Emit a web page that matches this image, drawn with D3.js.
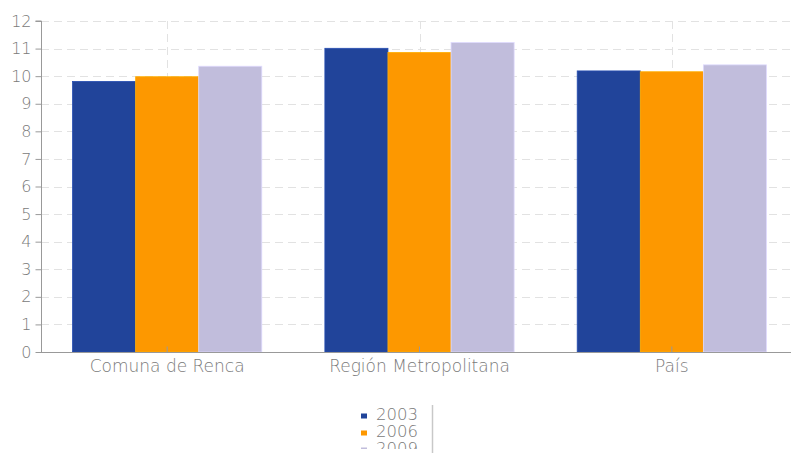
<!DOCTYPE html>
<html>
<head>
<meta charset="utf-8">
<script src="https://cdn.jsdelivr.net/npm/d3@7"></script>
<style>
  html, body { margin: 0; padding: 0; background: #fff; }
  svg { display: block; }
  text { font-family: "DejaVu Sans", Verdana, sans-serif; font-weight: 200; fill: #7a7a7a; }
</style>
</head>
<body>
<svg id="chart" width="791" height="453"></svg>
<script>
// Chart data
const categories = ["Comuna de Renca", "Región Metropolitana", "País"];
const years = ["2003", "2006", "2009"];
const values2003 = [9.81, 11.01, 10.19];
const values2006 = [9.98, 10.86, 10.16];
const values2009 = [10.36, 11.22, 10.41];
const yTicks = [0, 1, 2, 3, 4, 5, 6, 7, 8, 9, 10, 11, 12];
const colors = ["#21449a", "#fd9800", "#c1bddc"];

const seriesValues = [values2003, values2006, values2009];

const svg = d3.select("#chart");
const margin = { left: 41, top: 21, bottom: 352 };
const xRight = 798;
const fontFamily = "'DejaVu Sans', Verdana, sans-serif";
const textColor = "#7a7a7a";

const x = d3.scaleBand().domain(categories).range([margin.left, xRight])
  .paddingInner(0.25).paddingOuter(0.125);
const xs = d3.scaleBand().domain(years).range([0, x.bandwidth()]);
const y = d3.scaleLinear().domain([0, 12]).range([margin.bottom, margin.top]);

// horizontal grid
svg.append("g").selectAll("line").data(yTicks.filter(d => d > 0)).join("line")
  .attr("x1", margin.left).attr("x2", 791)
  .attr("y1", d => Math.round(y(d)) + 0.5).attr("y2", d => Math.round(y(d)) + 0.5)
  .attr("stroke", "#e2e2e2").attr("stroke-width", 1).attr("stroke-dasharray", "8,5");

// vertical grid at category centres
svg.append("g").selectAll("line").data(categories).join("line")
  .attr("x1", d => Math.round(x(d) + x.bandwidth() / 2) + 0.5)
  .attr("x2", d => Math.round(x(d) + x.bandwidth() / 2) + 0.5)
  .attr("y1", y(12)).attr("y2", y(0))
  .attr("stroke", "#e2e2e2").attr("stroke-width", 1).attr("stroke-dasharray", "8,5");

// bars
const groups = svg.append("g").selectAll("g").data(categories).join("g")
  .attr("transform", d => `translate(${x(d)},0)`);
groups.selectAll("rect")
  .data((c, i) => years.map((yr, k) => ({ yr, k, v: seriesValues[k][i] })))
  .join("rect")
  .attr("x", d => xs(d.yr))
  .attr("y", d => y(d.v))
  .attr("width", xs.bandwidth())
  .attr("height", d => y(0) - y(d.v))
  .attr("fill", d => colors[d.k])
  .attr("stroke", d => d3.color(colors[d.k]).brighter(0.4))
  .attr("stroke-width", 0.8);

// y axis
const yAxis = d3.axisLeft(y).tickValues(yTicks).tickSize(6).tickPadding(4);
const gy = svg.append("g").attr("transform", `translate(${margin.left + 0.5},0)`).call(yAxis);
gy.select(".domain").attr("stroke", "#999").attr("d", `M-6,${y(12)}H0V${y(0)}`);
gy.selectAll(".tick line").attr("stroke", "#999");
gy.selectAll(".tick text").attr("font-size", 16).attr("fill", textColor)
  .style("font-family", fontFamily).style("font-weight", 200);

// x axis
const xAxis = d3.axisBottom(x).tickSize(6).tickSizeOuter(0).tickPadding(1);
const gx = svg.append("g").attr("transform", `translate(0,${margin.bottom + 0.5})`).call(xAxis);
gx.select(".domain").attr("stroke", "#999").attr("d", `M${margin.left},0H791`);
gx.selectAll(".tick line").attr("stroke", "#999").attr("y1", -6).attr("y2", 0);
gx.selectAll(".tick text").attr("font-size", 17).attr("fill", textColor)
  .style("font-family", fontFamily).style("font-weight", 200);

// legend, clipped by its scrolling box
svg.append("defs").append("clipPath").attr("id", "legend-clip")
  .append("rect").attr("x", 340).attr("y", 400).attr("width", 100).attr("height", 49);
const legendBox = svg.append("g").attr("clip-path", "url(#legend-clip)");
const legend = legendBox.append("g").attr("transform", "translate(361,0)");
const items = legend.selectAll("g").data(years).join("g")
  .attr("transform", (d, i) => `translate(0,${419.5 + i * 17})`);
items.append("rect").attr("x", 0).attr("y", -6).attr("width", 6).attr("height", 5)
  .attr("fill", (d, i) => colors[i]);
items.append("text").attr("x", 15).attr("y", 0).attr("font-size", 16.5).text(d => d);
svg.append("line").attr("x1", 432.5).attr("x2", 432.5).attr("y1", 405).attr("y2", 453)
  .attr("stroke", "#c8c8c8").attr("stroke-width", 1.5);
</script>
</body>
</html>
